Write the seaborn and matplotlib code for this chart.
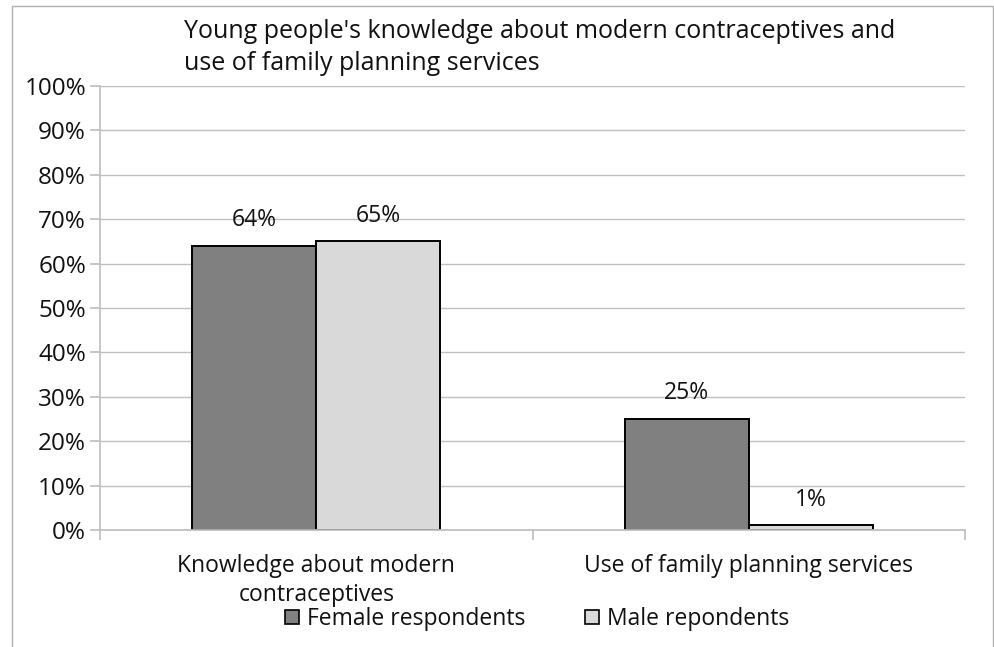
import matplotlib
matplotlib.use("Agg")
import matplotlib.pyplot as plt
import matplotlib.patches as mpatches
from matplotlib.lines import Line2D
import seaborn as sns
import pandas as pd

# data
categories = ["Knowledge about modern\ncontraceptives", "Use of family planning services"]
groups = ["Female respondents", "Male repondents"]
female = [0.64, 0.25]
male = [0.65, 0.01]
colors = ["#808080", "#d9d9d9"]

df = pd.DataFrame({
    "category": categories * 2,
    "group": [groups[0]] * 2 + [groups[1]] * 2,
    "value": female + male,
})

sns.set_theme(style="white")
plt.rcParams["font.family"] = ["Open Sans", "DejaVu Sans"]
txt = "#111111"

fig = plt.figure(figsize=(9.95, 6.47), dpi=100)
ax = fig.add_axes([0.1005, 0.181, 0.8695, 0.686])

sns.barplot(data=df, x="category", y="value", hue="group", palette=colors,
            width=0.573, dodge=True, gap=0, edgecolor="black", linewidth=1.4,
            legend=False, ax=ax)

for cont in ax.containers:
    ax.bar_label(cont, labels=[f"{v:.0%}" for v in cont.datavalues],
                 padding=10, fontsize=16.5, color=txt)

ax.set_ylim(0, 1)
ax.set_xlim(-0.5, 1.5)
ax.set_yticks([i / 10 for i in range(11)])
ax.set_yticklabels([f"{i * 10}%" for i in range(11)], fontsize=17.5, color=txt)
ax.yaxis.grid(True, color="#bfbfbf", linewidth=1)
ax.set_axisbelow(True)
ax.set_xlabel("")
ax.set_ylabel("")

# category boundaries as tick marks, labels in between
ax.set_xticks([-0.5, 0.5, 1.5])
ax.set_xticklabels([])
ax.set_xticks([0, 1], minor=True)
ax.set_xticklabels(categories, minor=True, fontsize=16.5, color=txt,
                   va="top", linespacing=1.32)
ax.tick_params(axis="x", which="minor", length=0, pad=17)
ax.tick_params(axis="x", which="major", length=7, color="#bfbfbf", direction="out",
               bottom=True)
ax.tick_params(axis="y", length=7, color="#bfbfbf", direction="out", left=True, pad=3)

for side in ["top", "right"]:
    ax.spines[side].set_visible(False)
ax.spines["left"].set_color("#bfbfbf")
ax.spines["bottom"].set_color("#bfbfbf")

fig.text(184 / 995, 1 - 19 / 647,
         "Young people's knowledge about modern contraceptives and\nuse of family planning services",
         ha="left", va="top", fontsize=18, color=txt, linespacing=1.38)

handles = [mpatches.Patch(facecolor=c, edgecolor="black", linewidth=1.2) for c in colors]
fig.legend(handles, groups, loc="center", bbox_to_anchor=(537 / 995, 1 - 619 / 647),
           ncol=2, frameon=False, fontsize=16.5, handlelength=0.6, handleheight=0.6,
           handletextpad=0.35, columnspacing=2.6, labelcolor=txt,
           borderpad=0, borderaxespad=0)

# outer chart frame
frame_col = "#b0b0b0"
fig.add_artist(Line2D([12 / 995, 12 / 995], [0, 1 - 6 / 647], transform=fig.transFigure,
                      color=frame_col, linewidth=1))
fig.add_artist(Line2D([993 / 995, 993 / 995], [0, 1 - 6 / 647], transform=fig.transFigure,
                      color=frame_col, linewidth=1))
fig.add_artist(Line2D([12 / 995, 993 / 995], [1 - 6 / 647, 1 - 6 / 647],
                      transform=fig.transFigure, color=frame_col, linewidth=1))

fig.savefig("out.png", dpi=100)
